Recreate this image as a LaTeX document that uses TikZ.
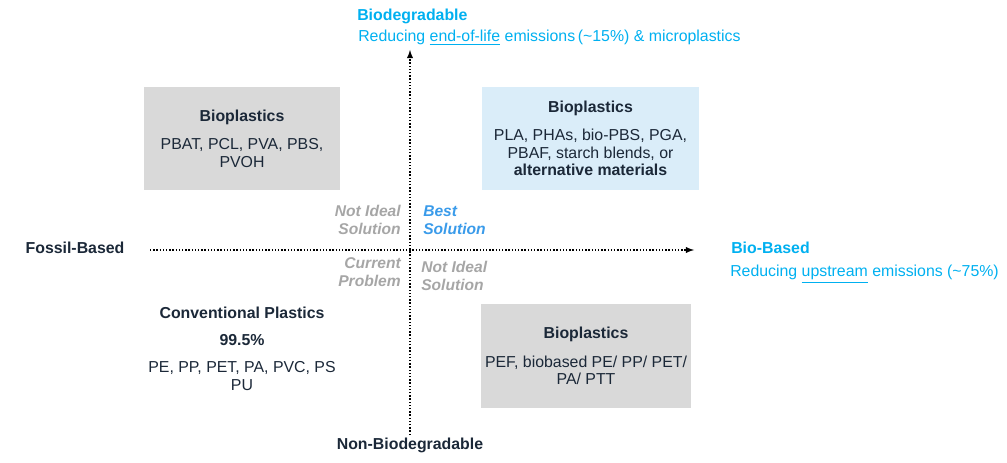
\documentclass[tikz,border=0pt]{standalone}
\usepackage{fontspec}
\setmainfont{Liberation Sans}
\usetikzlibrary{arrows}
\definecolor{navy}{HTML}{1B2838}
\definecolor{boxgrey}{HTML}{D9D9D9}
\definecolor{boxblue}{HTML}{DAEDF9}
\definecolor{skyblue}{HTML}{00B0F0}
\definecolor{bestblue}{HTML}{3A9BEA}
\definecolor{softgrey}{HTML}{A6A6A6}
\begin{document}
\begin{tikzpicture}[x=0.75pt,y=-0.75pt]
\tikzstyle{every node}=[inner sep=0pt, font=\fontsize{11.9}{13.2}\selectfont, text=navy]
\tikzstyle{quad}=[align=center, inner sep=0pt]
\tikzstyle{verdict}=[font=\fontsize{11.7}{13.5}\selectfont\bfseries\itshape, text=softgrey]
\tikzstyle{axis}=[line width=1.1pt, dash pattern=on 1.1pt off 1.3pt, -latex]
\useasboundingbox (0,0) rectangle (1007,463);
\draw (410,435) coordinate (ybot);
\draw (410,50) coordinate (ytop);
\draw (150,250) coordinate (xleft);
\draw (694,250) coordinate (xright);
\draw[axis] (ybot) -- (ytop);
\draw[axis] (xleft) -- (xright);
\draw (242,138.5) node (bioTL) [quad, fill=boxgrey, minimum width=147pt, minimum height=77.25pt] {\textbf{Bioplastics}\\[8pt]PBAT, PCL, PVA, PBS,\\PVOH};
\draw (590.5,138.5) node (bioTR) [quad, fill=boxblue, minimum width=162.75pt, minimum height=77.25pt] {\textbf{Bioplastics}\\[8pt]PLA, PHAs, bio-PBS, PGA,\\PBAF, starch blends, or\\\textbf{alternative materials}};
\draw (586,356) node (bioBR) [quad, fill=boxgrey, minimum width=157.5pt, minimum height=78pt] {\textbf{Bioplastics}\\[8pt]PEF, biobased PE/ PP/ PET/\\PA/ PTT};
\draw (242,349) node (conv) [quad] {\textbf{Conventional Plastics}\\[7pt]\textbf{99.5\%}\\[7pt]PE, PP, PET, PA, PVC, PS\\PU};
\draw (357,21) node (biodeg) [anchor=base west, text=skyblue] {\textbf{Biodegradable}};
\draw (358,42) node (eol) [anchor=base west, text=skyblue] {Reducing \underline{end-of-life} emissions\,(\textasciitilde15\%) \& microplastics};
\draw (731,254) node (biobased) [anchor=base west, text=skyblue] {\textbf{Bio-Based}};
\draw (730,277) node (upstream) [anchor=base west, text=skyblue] {Reducing \underline{upstream} emissions (\textasciitilde75\%)};
\draw (75,254) node (fossil) [anchor=base] {\textbf{Fossil-Based}};
\draw (410,449) node (nonbio) [anchor=base] {\textbf{Non-Biodegradable}};
\draw (401,220) node (notTL) [verdict, anchor=east, align=right] {Not Ideal\\Solution};
\draw (423,220) node (best) [verdict, anchor=west, align=left, text=bestblue] {Best\\Solution};
\draw (401,272.5) node (current) [verdict, anchor=east, align=right] {Current\\Problem};
\draw (421,275.5) node (notBR) [verdict, anchor=west, align=left] {Not Ideal\\Solution};
\end{tikzpicture}
\end{document}
